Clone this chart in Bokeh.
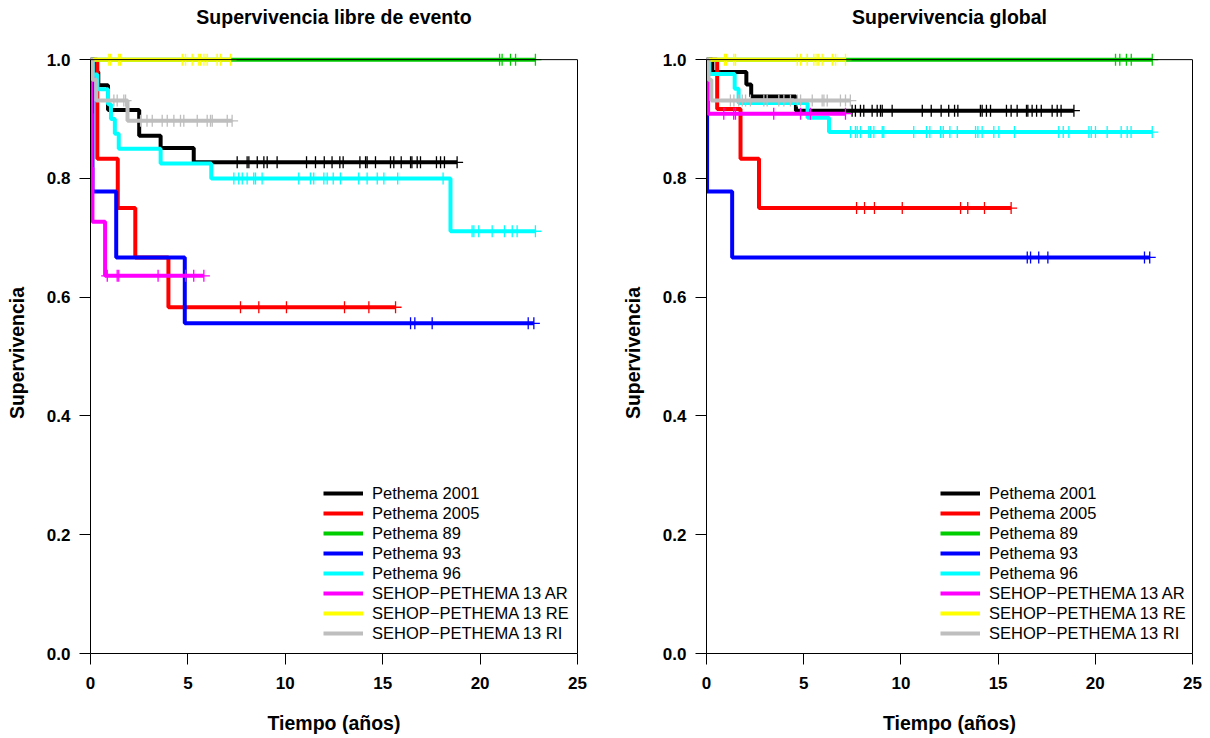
from bokeh.plotting import figure
from bokeh.models import (Range1d, LinearAxis, Span, Legend, LegendItem,
                          FixedTicker, PrintfTickFormatter)
from bokeh.layouts import row
from bokeh.embed import file_html
from bokeh.resources import INLINE

# ---------------- data ----------------
SERIES_NAMES = ["Pethema 2001", "Pethema 2005", "Pethema 89", "Pethema 93",
                "Pethema 96", "SEHOP\u2212PETHEMA 13 AR", "SEHOP\u2212PETHEMA 13 RE",
                "SEHOP\u2212PETHEMA 13 RI"]
SERIES_COLORS = ["#000000", "#FF0000", "#00CD00", "#0000FF", "#00FFFF",
                 "#FF00FF", "#FFFF00", "#BEBEBE"]
X_TICKS = [0, 5, 10, 15, 20, 25]
Y_TICKS = [0.0, 0.2, 0.4, 0.6, 0.8, 1.0]

# Supervivencia libre de evento (event times, survival after event, end, censor times)
EFS_2001_T = [0.2, 0.4, 0.9, 2.5, 3.6, 5.3]
EFS_2001_S = [0.979, 0.957, 0.915, 0.872, 0.851, 0.827]
EFS_2001_END = 18.82
EFS_2001_C = [7.53, 8.04, 8.13, 8.56, 8.9, 9.07, 9.58, 11.09, 11.55, 12.0, 12.4,
              12.8, 12.97, 13.83, 14.12, 14.2, 14.63, 15.4, 15.57, 15.95, 16.43,
              16.5, 16.77, 16.94, 17.76, 17.97, 18.17, 18.82]

EFS_2005_T = [0.35, 1.4, 2.3, 4.0]
EFS_2005_S = [0.833, 0.75, 0.667, 0.583]
EFS_2005_END = 15.66
EFS_2005_C = [7.7, 8.64, 10.06, 13.04, 14.29, 15.66]

EFS_89_T = []
EFS_89_S = []
EFS_89_END = 22.84
EFS_89_C = [21.0, 21.13, 21.56, 21.82, 22.84]

EFS_93_T = [0.1, 1.32, 4.84]
EFS_93_S = [0.778, 0.667, 0.556]
EFS_93_END = 22.76
EFS_93_C = [16.43, 16.65, 17.54, 22.47, 22.76]

EFS_96_T = [0.12, 0.35, 0.9, 1.05, 1.25, 1.45, 3.6, 6.2, 18.48]
EFS_96_S = [0.975, 0.95, 0.925, 0.9, 0.875, 0.85, 0.825, 0.8, 0.711]
EFS_96_END = 22.84
EFS_96_C = [7.36, 7.61, 7.79, 8.04, 8.38, 8.47, 8.81, 10.69, 11.29, 11.46, 11.98,
            12.15, 12.46, 12.83, 13.77, 14.2, 14.72, 15.06, 15.77, 18.1, 19.59,
            19.68, 19.93, 20.62, 21.25, 21.65, 21.9, 22.84]

EFS_AR_T = [0.03, 0.06, 0.1, 0.75]
EFS_AR_S = [0.909, 0.818, 0.727, 0.636]
EFS_AR_END = 5.82
EFS_AR_C = [0.86, 1.37, 1.45, 3.47, 4.88, 5.3, 5.82]

EFS_RE_T = []
EFS_RE_S = []
EFS_RE_END = 7.19
EFS_RE_C = [0.94, 1.03, 1.45, 1.54, 4.71, 4.88, 5.22, 5.56, 5.65, 5.82, 5.99,
            6.5, 6.67, 7.19]

EFS_RI_T = [0.1, 0.3, 1.9]
EFS_RI_S = [0.966, 0.931, 0.897]
EFS_RI_END = 7.27
EFS_RI_C = [1.2, 1.37, 1.71, 1.8, 2.57, 2.9, 3.17, 3.68, 3.94, 4.28, 4.62, 4.79,
            5.48, 5.99, 6.16, 6.25, 7.02, 7.27]

# Supervivencia global
OS_2001_T = [0.3, 2.05, 2.3, 4.6]
OS_2001_S = [0.979, 0.958, 0.938, 0.914]
OS_2001_END = 18.9
OS_2001_C = [7.49, 7.66, 7.92, 8.09, 8.52, 8.78, 8.95, 9.04, 9.55, 11.1, 11.56,
             12.07, 12.46, 12.76, 12.93, 14.09, 14.18, 14.4, 14.61, 15.43, 15.67,
             15.98, 16.46, 16.53, 16.75, 16.98, 17.22, 17.78, 18.04, 18.24, 18.9]

OS_2005_T = [0.55, 1.75, 2.7]
OS_2005_S = [0.917, 0.833, 0.75]
OS_2005_END = 15.67
OS_2005_C = [7.72, 8.13, 8.64, 10.07, 13.07, 13.44, 14.3, 15.67]

OS_89_T = []
OS_89_S = []
OS_89_END = 22.93
OS_89_C = [21.04, 21.26, 21.6, 21.85, 22.93]

OS_93_T = [0.03, 1.32]
OS_93_S = [0.778, 0.667]
OS_93_END = 22.8
OS_93_C = [16.5, 16.67, 17.09, 17.56, 22.53, 22.8]

OS_96_T = [0.15, 1.45, 1.65, 5.2, 6.3]
OS_96_S = [0.976, 0.951, 0.927, 0.902, 0.878]
OS_96_END = 22.93
OS_96_C = [7.41, 7.66, 7.75, 7.92, 8.35, 8.44, 8.61, 9.04, 9.12, 10.66, 11.32,
           11.49, 12.04, 12.18, 12.52, 12.9, 13.84, 13.96, 14.18, 14.78, 15.04,
           15.84, 18.12, 18.35, 18.64, 19.67, 19.79, 20.01, 20.61, 21.33, 21.64,
           21.84, 22.93]

OS_AR_T = [0.08]
OS_AR_S = [0.909]
OS_AR_END = 7.15
OS_AR_C = [0.89, 1.4, 1.49, 3.46, 4.84, 5.35, 7.15]

OS_RE_T = []
OS_RE_S = []
OS_RE_END = 7.15
OS_RE_C = [0.93, 1.03, 1.4, 1.49, 4.67, 4.84, 5.18, 5.52, 5.69, 5.78, 5.95, 6.47,
           6.64, 7.15]

OS_RI_T = [0.1, 0.25]
OS_RI_S = [0.966, 0.931]
OS_RI_END = 7.4
OS_RI_C = [1.23, 1.41, 1.66, 1.84, 2.01, 2.26, 2.95, 3.12, 3.72, 3.98, 4.32, 4.67,
           4.84, 5.44, 5.95, 6.04, 6.21, 6.89, 7.15, 7.4]

EFS_SERIES = [
    (EFS_2001_T, EFS_2001_S, EFS_2001_END, EFS_2001_C),
    (EFS_2005_T, EFS_2005_S, EFS_2005_END, EFS_2005_C),
    (EFS_89_T, EFS_89_S, EFS_89_END, EFS_89_C),
    (EFS_93_T, EFS_93_S, EFS_93_END, EFS_93_C),
    (EFS_96_T, EFS_96_S, EFS_96_END, EFS_96_C),
    (EFS_AR_T, EFS_AR_S, EFS_AR_END, EFS_AR_C),
    (EFS_RE_T, EFS_RE_S, EFS_RE_END, EFS_RE_C),
    (EFS_RI_T, EFS_RI_S, EFS_RI_END, EFS_RI_C),
]
OS_SERIES = [
    (OS_2001_T, OS_2001_S, OS_2001_END, OS_2001_C),
    (OS_2005_T, OS_2005_S, OS_2005_END, OS_2005_C),
    (OS_89_T, OS_89_S, OS_89_END, OS_89_C),
    (OS_93_T, OS_93_S, OS_93_END, OS_93_C),
    (OS_96_T, OS_96_S, OS_96_END, OS_96_C),
    (OS_AR_T, OS_AR_S, OS_AR_END, OS_AR_C),
    (OS_RE_T, OS_RE_S, OS_RE_END, OS_RE_C),
    (OS_RI_T, OS_RI_S, OS_RI_END, OS_RI_C),
]

FONT = "Liberation Sans"


def surv_at(t, times, surv):
    s = 1.0
    for ti, si in zip(times, surv):
        if t >= ti:
            s = si
    return s


def make_panel(title, series, border_left, border_right, legend_x):
    p = figure(width=605, height=738, x_range=Range1d(0, 25),
               y_range=Range1d(0, 1.012), output_backend="svg",
               toolbar_location=None, min_border_left=border_left,
               min_border_right=border_right, min_border_top=52,
               min_border_bottom=85, outline_line_color=None,
               background_fill_color="white", border_fill_color="white")
    p.xgrid.visible = False
    p.ygrid.visible = False

    # a trailing empty line lifts the title away from the frame, as in the original
    p.title.text = title + "\n"
    p.title.align = "center"
    p.title.vertical_align = "top"
    p.title.text_font = FONT
    p.title.text_font_size = "19.5px"
    p.title.text_font_style = "bold"
    p.title.text_color = "black"
    p.title.standoff = 2

    for ax in (p.xaxis[0], p.yaxis[0]):
        ax.major_tick_out = 11
        ax.major_tick_in = 0
        ax.minor_tick_out = 0
        ax.minor_tick_in = 0
        ax.axis_line_color = "black"
        ax.major_tick_line_color = "black"
        ax.major_label_text_font = FONT
        ax.major_label_text_font_size = "17px"
        ax.major_label_text_font_style = "bold"
        ax.major_label_text_color = "black"
        ax.axis_label_text_font = FONT
        ax.axis_label_text_font_size = "19.5px"
        ax.axis_label_text_font_style = "bold"
        ax.axis_label_text_color = "black"

    p.xaxis[0].ticker = FixedTicker(ticks=X_TICKS)
    p.xaxis[0].axis_label = "Tiempo (a\u00f1os)"
    p.xaxis[0].major_label_standoff = 12
    p.xaxis[0].axis_label_standoff = 20

    p.yaxis[0].ticker = FixedTicker(ticks=Y_TICKS)
    p.yaxis[0].formatter = PrintfTickFormatter(format="%.1f")
    p.yaxis[0].bounds = (0, 1)
    p.yaxis[0].axis_label = "Supervivencia"
    p.yaxis[0].major_label_standoff = 9
    p.yaxis[0].axis_label_standoff = 16

    right_ax = LinearAxis(bounds=(0, 1), ticker=FixedTicker(ticks=[]),
                          axis_line_color="black", major_tick_out=0,
                          major_tick_in=0, minor_tick_out=0, minor_tick_in=0,
                          major_label_standoff=0)
    p.add_layout(right_ax, "right")
    p.add_layout(Span(location=1.0, dimension="width", line_color="black",
                      line_width=1))

    items = []
    for (times, surv, end, cens), name, color in zip(series, SERIES_NAMES,
                                                     SERIES_COLORS):
        xs = [0.0] + list(times) + [end]
        ys = [1.0] + list(surv) + [surv[-1] if surv else 1.0]
        r = p.step(xs, ys, mode="after", line_color=color, line_width=4)
        cy = [surv_at(t, times, surv) for t in cens]
        p.scatter(cens, cy, marker="cross", size=12, line_color=color,
                  line_width=1.3)
        items.append(LegendItem(label=name, renderers=[r]))

    legend = Legend(items=items, location=(legend_x, 10),
                    border_line_color=None, background_fill_alpha=0,
                    padding=0, margin=0, spacing=0, glyph_width=40,
                    glyph_height=20, label_height=20, label_standoff=9,
                    label_text_font=FONT, label_text_font_size="16.5px",
                    label_text_color="black")
    p.add_layout(legend)
    return p


p1 = make_panel("Supervivencia libre de evento", EFS_SERIES, 90, 28, 233)
p2 = make_panel("Supervivencia global", OS_SERIES, 101, 18, 234)

p = row(p1, p2)
open("out.html", "w").write(file_html(p, INLINE))
